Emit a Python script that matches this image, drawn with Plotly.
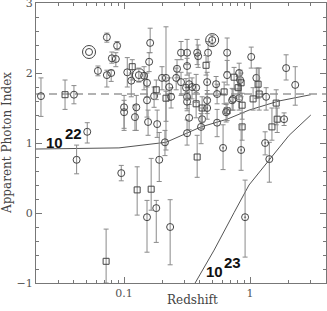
import numpy as np
import plotly.graph_objects as go

# ---- data: open circles (redshift, apparent photon index, +err, -err)
circ_z = [0.0219, 0.040, 0.051, 0.042, 0.062, 0.073, 0.088, 0.080, 0.086, 0.073, 0.079,
          0.161, 0.158, 0.106, 0.114, 0.144, 0.152, 0.173, 0.152, 0.200, 0.215, 0.259,
          0.263, 0.228, 0.236, 0.100, 0.100, 0.125, 0.122, 0.155, 0.183, 0.211, 0.190,
          0.095, 0.180, 0.152, 0.232, 0.283, 0.316, 0.380, 0.387, 0.464, 0.657, 0.316,
          0.657, 0.818, 0.283, 0.328, 0.346, 0.373, 0.537, 0.547, 0.720, 0.818, 0.316,
          0.456, 0.316, 0.328, 0.416, 0.547, 0.316, 0.408, 1.02, 1.93, 1.12, 2.28, 1.34,
          0.733, 0.833]
circ_g = [1.67, 1.69, 1.16, 0.76, 2.03, 2.51, 2.39, 2.21, 2.20, 1.97, 2.00,
          2.43, 2.16, 2.01, 1.89, 1.96, 1.86, 1.67, 1.61, 1.93, 1.93, 1.93,
          2.06, 1.80, 1.66, 1.51, 1.44, 1.51, 1.37, 1.30, 1.27, 1.01, 0.76,
          0.57, 0.07, -0.06, -0.20, 2.29, 2.29, 2.29, 2.24, 2.29, 2.29, 2.10,
          1.97, 2.00, 1.87, 1.84, 1.80, 1.79, 1.84, 1.70, 1.61, 1.64, 1.66,
          1.61, 1.59, 1.36, 1.34, 1.29, 1.14, 1.23, 2.23, 2.07, 1.93, 1.83, 1.66,
          1.63, 1.90]
circ_ep = [0.26, 0.13, 0.13, 0.21, 0.07, 0.06, 0.06, 0.09, 0.09, 0.07, 0.04,
           0.21, 0.13, 0.21, 0.11, 0.13, 0.14, 0.13, 0.19, 0.16, 0.73, 0.14,
           0.13, 0.13, 0.13, 0.17, 0.17, 0.17, 0.17, 0.17, 0.20, 0.17, 0.39,
           0.11, 0.11, 0.24, 0.39, 0.16, 0.19, 0.19, 0.16, 0.16, 0.21, 0.11,
           0.21, 0.14, 0.14, 0.16, 0.13, 0.19, 0.11, 0.14, 0.17, 0.14, 0.14,
           0.14, 0.13, 0.19, 0.16, 0.19, 0.19, 0.19, 0.14, 0.19, 0.14, 0.26, 0.13,
           0.14, 0.14]
circ_em = [0.29, 0.13, 0.16, 0.20, 0.07, 0.07, 0.06, 0.07, 0.11, 0.17, 0.12,
           0.14, 0.14, 0.21, 0.23, 0.20, 0.20, 0.16, 0.24, 0.17, 1.03, 0.17,
           0.13, 0.19, 0.16, 0.30, 0.26, 0.33, 0.19, 0.19, 0.19, 0.19, 0.31,
           0.11, 0.49, 0.50, 0.54, 0.10, 0.17, 0.17, 0.16, 0.13, 0.27, 0.13,
           0.14, 0.24, 0.19, 0.20, 0.17, 0.21, 0.16, 0.14, 0.14, 0.17, 0.17,
           0.19, 0.13, 0.17, 0.13, 0.20, 0.17, 0.24, 0.16, 0.17, 0.29, 0.29, 0.19,
           0.16, 0.19]

# ---- open squares
sq_z = [0.034, 0.072, 0.116, 0.180, 0.215, 0.127, 0.164, 0.380, 0.447, 0.746, 0.848,
        0.622, 0.373, 0.416, 0.864, 0.864, 1.157, 1.056, 1.18, 1.61, 1.64, 1.49, 0.803]
sq_g = [1.69, -0.69, 2.09, 1.76, 1.64, 0.33, 0.34, 0.80, 2.11, 1.94, 1.86,
        1.73, 1.56, 1.50, 1.54, 1.23, 1.84, 1.63, 1.70, 1.57, 1.34, 1.23, 1.79]
sq_ep = [0.21, 0.46, 0.10, 0.14, 0.10, 0.33, 0.44, 0.31, 0.14, 0.14, 0.14,
         0.14, 0.16, 0.16, 0.17, 0.20, 0.23, 0.16, 0.37, 0.19, 0.16, 0.27, 0.16]
sq_em = [0.21, 0.31, 0.19, 0.14, 0.33, 0.36, 0.30, 0.29, 0.14, 0.17, 0.20,
         0.17, 0.20, 0.20, 0.20, 0.19, 0.20, 0.16, 0.23, 0.31, 0.19, 0.19, 0.17]

# ---- squares with dot
dsq_z = [0.657]
dsq_g = [1.46]
dsq_ep = [0.11]
dsq_em = [0.14]

# ---- circles with dot
dc_z = [0.310, 0.456, 0.456, 0.610, 0.645, 0.848, 1.315, 1.42, 1.86, 0.912]
dc_g = [1.79, 1.87, 1.50, 0.93, 1.44, 0.90, 1.00, 0.77, 1.34, -0.06]
dc_ep = [0.13, 0.14, 0.14, 0.33, 0.11, 0.36, 0.16, 0.24, 0.09, 0.53]
dc_em = [0.16, 0.17, 0.16, 0.31, 0.14, 0.29, 0.17, 0.33, 0.09, 0.57]

# ---- double (ringed) circles
ring_z = [0.0527, 0.131, 0.50]
ring_g = [2.30, 1.97, 2.47]
ring_ep = [0.0, 0.10, 0.07]
ring_em = [0.0, 0.10, 0.07]
ring_inner = ["circle-open", "circle-open", "circle-open-dot"]

# ---- absorption curves
nh22_z = [0.02, 0.091, 0.215, 0.316, 0.408, 0.657, 0.98, 1.69, 3.03]
nh22_g = [0.914, 0.93, 1.01, 1.14, 1.23, 1.34, 1.47, 1.60, 1.69]
nh23_z = [0.366, 0.518, 0.748, 0.98, 1.42, 2.04, 3.03]
nh23_g = [-1.0, -0.53, 0.01, 0.40, 0.76, 1.11, 1.40]

intrinsic_index = 1.7

x_range = [0.02, 4.0]
y_range = [-1, 3]
x_major = [0.1, 1]
x_major_text = ["0.1", "1"]
x_minor = [0.02, 0.03, 0.04, 0.05, 0.06, 0.07, 0.08, 0.09,
           0.2, 0.3, 0.4, 0.5, 0.6, 0.7, 0.8, 0.9, 2, 3, 4]
y_major = [-1, 0, 1, 2, 3]
y_major_text = ["\u22121", "0", "1", "2", "3"]

MK = "#444444"
EB = "#8a8a8a"
LN = "#555555"
AX = "#777777"

fig = go.Figure()


def add_pts(z, g, ep, em, symbol, size, show_err=True):
    fig.add_trace(go.Scatter(
        x=z, y=g, mode="markers",
        marker=dict(symbol=symbol, size=size, color=MK, line=dict(color=MK, width=1)),
        error_y=dict(type="data", array=ep, arrayminus=em, color=EB,
                     thickness=1, width=2.5, visible=show_err),
        showlegend=False, hoverinfo="skip"))


# curves and dashed reference
fig.add_trace(go.Scatter(x=nh22_z, y=nh22_g, mode="lines",
                         line=dict(color=LN, width=1), showlegend=False, hoverinfo="skip"))
fig.add_trace(go.Scatter(x=nh23_z, y=nh23_g, mode="lines",
                         line=dict(color=LN, width=1), showlegend=False, hoverinfo="skip"))
fig.add_trace(go.Scatter(x=x_range, y=[intrinsic_index, intrinsic_index], mode="lines",
                         line=dict(color="#999999", width=1.3, dash="8px,5px"),
                         showlegend=False, hoverinfo="skip"))

add_pts(circ_z, circ_g, circ_ep, circ_em, "circle-open", 7)
add_pts(sq_z, sq_g, sq_ep, sq_em, "square-open", 6)
add_pts(dsq_z, dsq_g, dsq_ep, dsq_em, "square-open-dot", 6)
add_pts(dc_z, dc_g, dc_ep, dc_em, "circle-open-dot", 7)
# ringed circles: outer ring + inner symbol
fig.add_trace(go.Scatter(x=ring_z, y=ring_g, mode="markers",
                         marker=dict(symbol="circle-open", size=13, color=MK,
                                     line=dict(color=MK, width=1)),
                         showlegend=False, hoverinfo="skip"))
for i in range(len(ring_z)):
    add_pts([ring_z[i]], [ring_g[i]], [ring_ep[i]], [ring_em[i]], ring_inner[i], 7,
            show_err=ring_ep[i] > 0)

lab_font = dict(family="Liberation Sans", size=15, color="#111111")
ann = [
    dict(x=np.log10(0.0278), y=1.01, text="<b>10</b>"),
    dict(x=np.log10(0.0394), y=1.14, text="<b>22</b>"),
    dict(x=np.log10(0.518), y=-0.84, text="<b>10</b>"),
    dict(x=np.log10(0.72), y=-0.71, text="<b>23</b>"),
]
annotations = [dict(a, xref="x", yref="y", showarrow=False, font=lab_font,
                    xanchor="center", yanchor="middle") for a in ann]

title_font = dict(family="DejaVu Serif", size=12, color="#444444")
annotations.append(dict(text="Apparent Photon Index", xref="paper", yref="paper",
                        x=-0.1, y=0.5, textangle=-90, showarrow=False,
                        xanchor="center", yanchor="middle", font=title_font))
annotations.append(dict(text="Redshift", xref="paper", yref="paper",
                        x=0.54, y=-0.062, showarrow=False,
                        xanchor="center", yanchor="middle", font=title_font))

tick_font = dict(family="DejaVu Serif", size=11, color="#555555")
fig.update_layout(
    width=327, height=311,
    margin=dict(l=36, r=1, t=3, b=28, autoexpand=False),
    paper_bgcolor="white", plot_bgcolor="white",
    annotations=annotations,
    xaxis=dict(type="log", range=[np.log10(x_range[0]), np.log10(x_range[1])],
               tickmode="array", tickvals=x_major, ticktext=x_major_text,
               ticks="inside", ticklen=6, tickcolor=AX, tickwidth=1,
               showline=True, linecolor=AX, linewidth=1, mirror="allticks",
               showgrid=False, zeroline=False, tickfont=tick_font, automargin=False,
               ticklabeloverflow="allow",
               minor=dict(tickmode="array", tickvals=x_minor, ticks="inside",
                          ticklen=3, tickcolor=AX, showgrid=False)),
    yaxis=dict(range=y_range, tickmode="array", tickvals=y_major, ticktext=y_major_text,
               ticks="inside", ticklen=6, tickcolor=AX, tickwidth=1,
               showline=True, linecolor=AX, linewidth=1, mirror="allticks",
               showgrid=False, zeroline=False, tickfont=tick_font, automargin=False,
               ticklabeloverflow="allow",
               minor=dict(dtick=0.2, tick0=0, ticks="inside", ticklen=3,
                          tickcolor=AX, showgrid=False)),
)

fig.write_html("out.html",
               config={"displayModeBar": False, "staticPlot": True},
               post_script="document.body.style.margin='0';"
                           "document.body.style.padding='0';"
                           "document.body.style.overflow='hidden';")
